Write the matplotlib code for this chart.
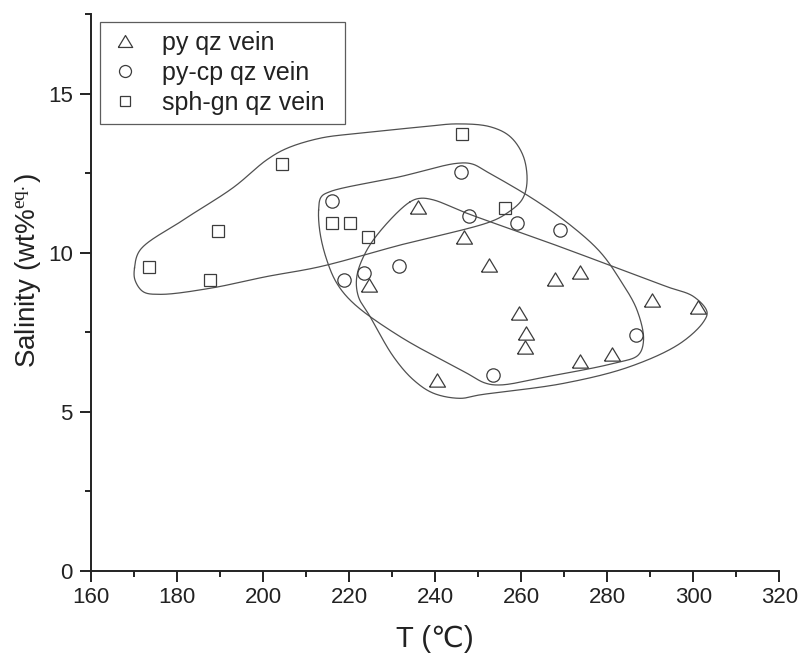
import numpy as np
import matplotlib
matplotlib.use("Agg")
import matplotlib.pyplot as plt
from matplotlib.ticker import MultipleLocator

plt.rcParams['font.family'] = ['Liberation Sans', 'DejaVu Sans', 'Noto Sans CJK SC']
plt.rcParams['mathtext.fontset'] = 'custom'
plt.rcParams['mathtext.rm'] = 'Liberation Serif'
plt.rcParams['mathtext.it'] = 'Liberation Serif:italic'

# ---------------- data ----------------
py_T = [236.0, 246.7, 252.6, 224.7, 259.4, 267.9, 273.7, 290.4, 301.2, 261.2, 260.9, 273.6, 281.2, 240.5]
py_S = [11.45, 10.50, 9.61, 8.97, 8.09, 9.17, 9.38, 8.51, 8.30, 7.46, 7.02, 6.59, 6.81, 5.99]

pycp_T = [246.1, 216.1, 247.9, 259.0, 269.1, 231.6, 223.5, 218.9, 286.6, 253.5]
pycp_S = [12.54, 11.62, 11.16, 10.94, 10.70, 9.57, 9.35, 9.14, 7.41, 6.15]

sphgn_T = [173.5, 187.7, 189.5, 204.4, 216.1, 220.3, 224.5, 246.3, 256.3]
sphgn_S = [9.56, 9.13, 10.69, 12.79, 10.92, 10.92, 10.48, 13.74, 11.40]

# hand-drawn field outlines (T, salinity)
envA_T = [170.12, 171.40, 181.47, 193.09, 200.86, 205.51, 213.26, 221.79, 237.28, 245.05, 252.79,
          257.44, 260.53, 261.33, 260.16, 256.67, 252.79, 231.86, 213.26, 200.86, 187.67, 176.05,
          172.16, 170.23]
envA_S = [9.52, 10.08, 11.03, 12.05, 12.92, 13.28, 13.60, 13.75, 13.96, 14.05, 13.96,
          13.65, 13.02, 12.18, 11.66, 11.24, 10.97, 10.24, 9.56, 9.25, 8.88, 8.69,
          8.77, 9.14]

envB_T = [212.91, 213.49, 215.58, 231.86, 245.05, 248.60, 252.09, 262.79, 271.40, 278.37, 283.02,
          286.91, 288.44, 287.21, 281.47, 265.98, 255.12, 251.63, 247.37, 231.86, 221.00, 217.14,
          214.81, 213.26]
envB_S = [11.34, 11.75, 11.92, 12.39, 12.81, 12.79, 12.54, 11.69, 10.87, 10.02, 9.14,
          8.20, 7.25, 6.78, 6.52, 6.10, 5.84, 5.90, 6.21, 7.36, 8.41, 9.04,
          9.77, 10.61]

envC_T = [234.19, 236.51, 239.60, 247.37, 266.74, 281.47, 293.88, 300.07, 303.19, 302.40, 296.98,
          285.35, 269.84, 250.47, 245.81, 239.60, 234.95, 230.30, 224.88, 222.16, 221.79, 224.12,
          228.77]
envC_S = [11.60, 11.71, 11.66, 11.24, 10.30, 9.56, 8.93, 8.62, 8.14, 7.83, 7.15,
          6.42, 5.89, 5.53, 5.42, 5.58, 6.00, 6.73, 7.99, 8.62, 9.25, 10.08,
          10.92]

legend_labels = ['py qz vein', 'py-cp qz vein', 'sph-gn qz vein']
x_ticks = list(range(160, 321, 20))
y_ticks = [0, 5, 10, 15]

# ---------------- figure ----------------
fig = plt.figure(figsize=(8.03, 6.57), dpi=100)
ax = fig.add_axes([0.1133, 0.1314, 0.8572, 0.8470])
ax.set_xlim(160, 320)
ax.set_ylim(0, 17.5)

edge = '#3c3c3c'
tri = [(-1.0, -0.83), (1.0, -0.83), (0.0, 0.83), (-1.0, -0.83)]

ax.plot(py_T, py_S, linestyle='none', marker=tri, markersize=11.5, markerfacecolor='none',
        markeredgecolor=edge, markeredgewidth=0.9, label=legend_labels[0], zorder=3)
ax.plot(pycp_T, pycp_S, linestyle='none', marker='o', markersize=9.6, markerfacecolor='none',
        markeredgecolor=edge, markeredgewidth=0.9, label=legend_labels[1], zorder=3)
ax.plot(sphgn_T, sphgn_S, linestyle='none', marker='s', markersize=8.4, markerfacecolor='none',
        markeredgecolor=edge, markeredgewidth=0.9, label=legend_labels[2], zorder=3)


def smooth_closed(ax, xs, ys, n=40):
    pts = ax.transData.transform(np.column_stack([xs, ys]))
    m = len(pts)
    out = []
    for i in range(m):
        p0, p1, p2, p3 = pts[(i - 1) % m], pts[i], pts[(i + 1) % m], pts[(i + 2) % m]
        t0 = 0.0
        t1 = t0 + np.linalg.norm(p1 - p0) ** 0.5
        t2 = t1 + np.linalg.norm(p2 - p1) ** 0.5
        t3 = t2 + np.linalg.norm(p3 - p2) ** 0.5
        t = np.linspace(t1, t2, n, endpoint=False)[:, None]
        a1 = (t1 - t) / (t1 - t0) * p0 + (t - t0) / (t1 - t0) * p1
        a2 = (t2 - t) / (t2 - t1) * p1 + (t - t1) / (t2 - t1) * p2
        a3 = (t3 - t) / (t3 - t2) * p2 + (t - t2) / (t3 - t2) * p3
        b1 = (t2 - t) / (t2 - t0) * a1 + (t - t0) / (t2 - t0) * a2
        b2 = (t3 - t) / (t3 - t1) * a2 + (t - t1) / (t3 - t1) * a3
        c = (t2 - t) / (t2 - t1) * b1 + (t - t1) / (t2 - t1) * b2
        out.append(c)
    out = np.vstack(out + [out[0][:1]])
    return ax.transData.inverted().transform(out)


for ex, ey in [(envA_T, envA_S), (envB_T, envB_S), (envC_T, envC_S)]:
    curve = smooth_closed(ax, ex, ey)
    ax.plot(curve[:, 0], curve[:, 1], color='#505050', linewidth=0.9, zorder=2)

# axes styling
for s in ['top', 'right']:
    ax.spines[s].set_visible(False)
for s in ['left', 'bottom']:
    ax.spines[s].set_linewidth(1.4)
    ax.spines[s].set_color('#222222')

ax.set_xticks(x_ticks)
ax.set_yticks(y_ticks)
ax.xaxis.set_minor_locator(MultipleLocator(10))
ax.yaxis.set_minor_locator(MultipleLocator(2.5))
ax.tick_params(which='major', direction='out', length=8, width=1.4, color='#222222',
               labelsize=16, labelcolor='#222222')
ax.tick_params(which='minor', direction='out', length=4, width=1.4, color='#222222')
ax.tick_params(axis='x', which='major', pad=4)
ax.tick_params(axis='y', which='major', pad=5)

ax.set_xlabel('T (℃)', fontsize=21, color='#222222')
ax.xaxis.set_label_coords(0.5, -0.097)
ax.set_ylabel(r'Salinity (wt%$^{\mathrm{eq.}}$)', fontsize=20, color='#222222')
ax.yaxis.set_label_coords(-0.07, 0.54)

leg = ax.legend(loc='upper left', bbox_to_anchor=(0.0131, 0.805, 0.356, 0.1815), mode='expand',
                borderaxespad=0, fontsize=18, frameon=True, fancybox=False, edgecolor='#333333',
                borderpad=0.38, labelspacing=0.23, handlelength=1.23, handletextpad=0.86,
                markerscale=0.9)
leg.get_frame().set_linewidth(0.9)
for t in leg.get_texts():
    t.set_color('#222222')

fig.savefig('out.png', dpi=100, facecolor='white')
